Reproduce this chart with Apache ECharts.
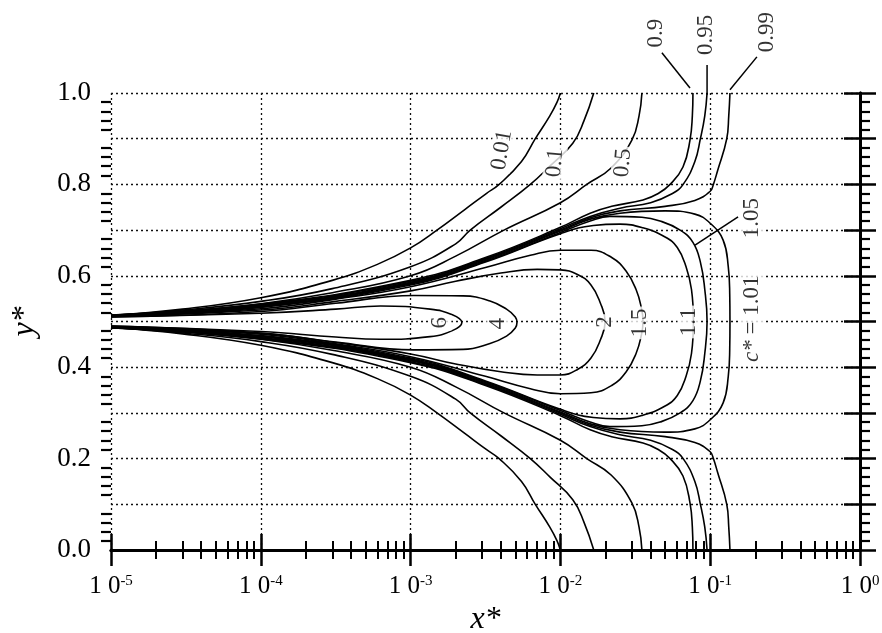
<!DOCTYPE html>
<html><head><meta charset="utf-8">
<script src="https://cdn.jsdelivr.net/npm/echarts@6/dist/echarts.min.js"></script>
<style>html,body{margin:0;padding:0;background:#fff}#c{width:882px;height:633px}</style>
</head><body><div id="c"></div>
<script>
// ---- tick labels ----
const xTickExponents = [-5, -4, -3, -2, -1, 0];
const yTickLabels = ['0.0', '0.2', '0.4', '0.6', '0.8', '1.0'];

// ---- contour curves, [x*, y*] ----
const c001Upper = [[1e-5,.513],[3e-5,.527],[1e-4,.552],[3e-4,.59],[6e-4,.625],[1e-3,.661],[1.5e-3,.70],[2.3e-3,.745],[3.2e-3,.78],[3.9e-3,.80],[5.5e-3,.85],[6.8e-3,.90],[8.5e-3,.95],[9.5e-3,.98],[1e-2,1.0]];
const c001Lower = [[1e-5,.487],[3e-5,.473],[1e-4,.448],[3e-4,.41],[6e-4,.375],[1e-3,.339],[1.5e-3,.30],[2.3e-3,.255],[3.2e-3,.22],[3.9e-3,.20],[5.5e-3,.15],[6.8e-3,.10],[8.5e-3,.05],[9.5e-3,.02],[1e-2,0]];
const c01Upper = [[1e-5,.513],[3e-5,.525],[1e-4,.544],[3e-4,.572],[1e-3,.62],[2e-3,.67],[2.5e-3,.70],[4e-3,.75],[6.3e-3,.80],[8.5e-3,.84],[1.21e-2,.89],[1.44e-2,.94],[1.67e-2,1.0]];
const c01Lower = [[1e-5,.487],[3e-5,.475],[1e-4,.456],[3e-4,.428],[1e-3,.38],[2e-3,.33],[2.5e-3,.30],[4e-3,.25],[6.3e-3,.20],[8.5e-3,.16],[1.21e-2,.11],[1.44e-2,.06],[1.67e-2,0]];
const c05Upper = [[1e-5,.513],[3e-5,.523],[1e-4,.539],[3e-4,.563],[1e-3,.60],[2e-3,.643],[4.2e-3,.70],[1e-2,.76],[1.5e-2,.80],[2.18e-2,.836],[3.0e-2,.897],[3.35e-2,.95],[3.5e-2,1.0]];
const c05Lower = [[1e-5,.487],[3e-5,.477],[1e-4,.461],[3e-4,.437],[1e-3,.40],[2e-3,.357],[4.2e-3,.30],[1e-2,.24],[1.5e-2,.20],[2.18e-2,.164],[3.0e-2,.103],[3.35e-2,.05],[3.5e-2,0]];
const c09Upper = [[1e-5,.514],[1e-4,.538],[1e-3,.59],[3.16e-3,.64],[1e-2,.706],[1.58e-2,.737],[2.2e-2,.752],[3.56e-2,.766],[4.5e-2,.78],[5.4e-2,.80],[6.58e-2,.838],[7.33e-2,.897],[7.6e-2,.95],[7.67e-2,1.0]];
const c09Lower = [[1e-5,.486],[1e-4,.462],[1e-3,.41],[3.16e-3,.36],[1e-2,.294],[1.58e-2,.263],[2.2e-2,.248],[3.56e-2,.234],[4.5e-2,.22],[5.4e-2,.20],[6.58e-2,.162],[7.33e-2,.103],[7.6e-2,.05],[7.67e-2,0]];
const c095Upper = [[1e-5,.514],[1e-4,.537],[1e-3,.588],[3.16e-3,.638],[1e-2,.703],[1.58e-2,.73],[2.5e-2,.748],[4e-2,.76],[5.6e-2,.78],[6.6e-2,.80],[7.9e-2,.85],[8.6e-2,.90],[9.2e-2,.95],[9.53e-2,1.0]];
const c095Lower = [[1e-5,.486],[1e-4,.463],[1e-3,.412],[3.16e-3,.362],[1e-2,.297],[1.58e-2,.27],[2.5e-2,.252],[4e-2,.24],[5.6e-2,.22],[6.6e-2,.20],[7.9e-2,.15],[8.6e-2,.10],[9.2e-2,.05],[9.53e-2,0]];
const c099Upper = [[1e-5,.513],[1e-4,.535],[1e-3,.586],[3.16e-3,.636],[1e-2,.70],[1.58e-2,.727],[2.5e-2,.742],[5e-2,.752],[7.9e-2,.765],[1e-1,.785],[1.05e-1,.80],[1.12e-1,.83],[1.29e-1,.90],[1.33e-1,.95],[1.355e-1,1.0]];
const c099Lower = [[1e-5,.487],[1e-4,.465],[1e-3,.414],[3.16e-3,.364],[1e-2,.30],[1.58e-2,.273],[2.5e-2,.258],[5e-2,.248],[7.9e-2,.235],[1e-1,.215],[1.05e-1,.20],[1.12e-1,.17],[1.29e-1,.10],[1.33e-1,.05],[1.355e-1,0]];
const c101Loop = [[1e-5,.513],[1e-4,.533],[1e-3,.584],[3.16e-3,.634],[1e-2,.698],[1.58e-2,.724],[2.5e-2,.737],[5e-2,.742],[7.9e-2,.735],[1e-1,.715],[1.22e-1,.678],[1.32e-1,.62],[1.35e-1,.56],[1.355e-1,.50],
  [1.35e-1,.44],[1.32e-1,.38],[1.22e-1,.322],[1e-1,.285],[7.9e-2,.265],[5e-2,.258],[2.5e-2,.263],[1.58e-2,.276],[1e-2,.302],[3.16e-3,.366],[1e-3,.416],[1e-4,.467],[1e-5,.487]];
const c105Loop = [[1e-5,.512],[1e-4,.532],[1e-3,.582],[3.16e-3,.632],[1e-2,.695],[1.58e-2,.72],[2.14e-2,.73],[3.5e-2,.728],[4.62e-2,.72],[6.3e-2,.70],[7.67e-2,.673],[8.6e-2,.63],[9.2e-2,.57],[9.53e-2,.50],
  [9.2e-2,.43],[8.6e-2,.37],[7.67e-2,.327],[6.3e-2,.30],[4.62e-2,.28],[3.5e-2,.272],[2.14e-2,.27],[1.58e-2,.28],[1e-2,.305],[3.16e-3,.368],[1e-3,.418],[1e-4,.468],[1e-5,.488]];
const c11Loop = [[1e-5,.512],[1e-4,.531],[1e-3,.58],[3.16e-3,.63],[1e-2,.692],[1.66e-2,.71],[2.5e-2,.713],[3.55e-2,.705],[5e-2,.685],[6.03e-2,.662],[6.9e-2,.62],[7.5e-2,.57],[7.73e-2,.50],
  [7.5e-2,.43],[6.9e-2,.38],[6.03e-2,.338],[5e-2,.315],[3.55e-2,.295],[2.5e-2,.287],[1.66e-2,.29],[1e-2,.308],[3.16e-3,.37],[1e-3,.42],[1e-4,.469],[1e-5,.488]];
const c15Loop = [[1e-5,.511],[1e-4,.528],[3.16e-4,.549],[1e-3,.576],[3.16e-3,.618],[6.3e-3,.645],[1e-2,.656],[1.6e-2,.656],[2.2e-2,.64],[2.75e-2,.61],[3.2e-2,.57],[3.47e-2,.53],[3.56e-2,.50],
  [3.47e-2,.47],[3.2e-2,.43],[2.75e-2,.39],[2.2e-2,.36],[1.6e-2,.344],[1e-2,.342],[6.3e-3,.353],[3.16e-3,.38],[1e-3,.423],[3.16e-4,.451],[1e-4,.472],[1e-5,.489]];
const c2Loop = [[1e-5,.511],[1e-4,.525],[3.16e-4,.544],[1e-3,.567],[2e-3,.588],[4e-3,.606],[7e-3,.614],[1e-2,.613],[1.3e-2,.603],[1.6e-2,.58],[1.85e-2,.54],[1.99e-2,.50],
  [1.85e-2,.46],[1.6e-2,.42],[1.3e-2,.395],[1e-2,.383],[7e-3,.383],[4e-3,.39],[2e-3,.407],[1e-3,.429],[3.16e-4,.454],[1e-4,.474],[1e-5,.489]];
const c4Loop = [[1e-5,.51],[1e-4,.522],[3.16e-4,.54],[1.05e-3,.557],[2.24e-3,.556],[3.39e-3,.545],[4.37e-3,.527],[5e-3,.51],[5.13e-3,.498],
  [5e-3,.486],[4.37e-3,.468],[3.39e-3,.452],[2.24e-3,.439],[1.05e-3,.438],[3.16e-4,.455],[1e-4,.475],[1e-5,.49]];
const c6Loop = [[1e-5,.51],[1e-4,.518],[3.16e-4,.527],[6.3e-4,.534],[1.35e-3,.527],[1.9e-3,.515],[2.2e-3,.498],
  [1.9e-3,.48],[1.35e-3,.467],[6.3e-4,.461],[3.16e-4,.466],[1e-4,.478],[1e-5,.49]];

// ---- curve labels ----
const curveLabelText = ['0.01','0.1','0.5','0.9','0.95','0.99','1.05','c* = 1.01','1.1','1.5','2','4','6'];
const curveLabelX = [4.07e-3, 9.2e-3, 2.62e-2, 4.35e-2, 9.38e-2, 2.39e-1, 1.9e-1, 1.9e-1, 7.21e-2, 3.4e-2, 1.99e-2, 3.83e-3, 1.57e-3];
const curveLabelY = [.875, .847, .847, 1.131, 1.127, 1.133, .726, .506, .499, .497, .499, .495, .497];
// leader lines from label to curve
const leader09 = [[4.76e-2,1.088],[7.33e-2,1.011]];
const leader095 = [[9.53e-2,1.061],[9.53e-2,.996]];
const leader099 = [[2.05e-1,1.079],[1.355e-1,1.007]];
const leader105 = [[1.535e-1,.729],[7.92e-2,.667]];

const curves = [c001Upper,c001Lower,c01Upper,c01Lower,c05Upper,c05Lower,c09Upper,c09Lower,c095Upper,c095Lower,c099Upper,c099Lower,c101Loop,c105Loop,c11Loop,c15Loop,c2Loop,c4Loop,c6Loop];
const leaders = [leader09, leader095, leader099, leader105];

const SERIF = '"Liberation Serif", "DejaVu Serif", serif';
const labelRot = [80, 85, 85, 90, 90, 90, 90, 90, 90, 90, 90, 90, 90];
const labelBg = [true, true, true, false, false, false, true, true, true, true, true, true, true];

// minor tick positions (log decades 2..9, and every 0.02 on y)
const minorLog = [];
for (let d = -5; d < 0; d++) for (let k = 2; k <= 9; k++) minorLog.push(d + Math.log10(k));
const minorY = [];
for (let i = 1; i < 50; i++) if (i % 5 !== 0) minorY.push(i / 50);

const chart = echarts.init(document.getElementById('c'), null, {renderer: 'canvas'});
const axisLine = {show: true, lineStyle: {color: '#000', width: 3}};
const majorTick = {show: true, length: 16, lineStyle: {color: '#000', width: 2.5}};
const dotted = {show: true, lineStyle: {color: '#111', width: 1.3, type: [2, 3]}};
const xFmt = v => { const e = Math.round(Math.log10(v)); return xTickExponents.indexOf(e) >= 0 ? '{b|1 0}{s|' + e + '}' : ''; };

function minorX(pos) {
  return {type: 'value', position: pos, min: -5, max: 0, gridIndex: 0,
    axisLine: {show: false}, axisLabel: {show: false}, splitLine: {show: false},
    axisTick: {show: true, customValues: minorLog, length: 9, lineStyle: {color: '#000', width: 2}}};
}
function minorYAxis(pos) {
  return {type: 'value', position: pos, min: 0, max: 1, gridIndex: 0,
    axisLine: {show: false}, axisLabel: {show: false}, splitLine: {show: false},
    axisTick: {show: true, customValues: minorY, length: 10, lineStyle: {color: '#000', width: 2.2}}};
}

const series = [];
curves.forEach(d => series.push({
  type: 'line', data: d, xAxisIndex: 0, yAxisIndex: 0, showSymbol: false, symbol: 'none',
  smooth: 0.45, lineStyle: {color: '#000', width: 1.6}, z: 3, silent: true, clip: false
}));
leaders.forEach(d => series.push({
  type: 'line', data: d, xAxisIndex: 0, yAxisIndex: 0, showSymbol: false, symbol: 'none',
  lineStyle: {color: '#000', width: 1.5}, z: 3, silent: true, clip: false
}));
series.push({
  type: 'scatter', xAxisIndex: 0, yAxisIndex: 0, symbolSize: 1, clip: false, z: 10, silent: true,
  itemStyle: {color: 'rgba(0,0,0,0)'},
  data: curveLabelText.map((t, i) => ({
    value: [curveLabelX[i], curveLabelY[i]],
    label: {
      show: true, position: 'inside', rotate: labelRot[i],
      formatter: t.indexOf('c*') === 0 ? '{i|c*}{n|' + t.slice(2) + '}' : t,
      fontFamily: SERIF, fontSize: 23, color: '#000',
      backgroundColor: labelBg[i] ? '#fff' : 'transparent', padding: [0, 2],
      rich: {i: {fontFamily: SERIF, fontSize: 23, fontStyle: 'italic', color: '#000'},
             n: {fontFamily: SERIF, fontSize: 23, color: '#000'}}
    }
  }))
});

chart.setOption({
  animation: false,
  backgroundColor: '#fff',
  grid: {left: 111, right: 22, top: 93, bottom: 83, containLabel: false, outerBoundsMode: 'none'},
  xAxis: [
    {type: 'log', logBase: 10, min: 1e-5, max: 1, splitNumber: 5, position: 'bottom',
     axisLine: axisLine, axisTick: majorTick, splitLine: dotted,
     name: 'x*', nameLocation: 'middle', nameGap: 46,
     nameTextStyle: {fontFamily: SERIF, fontSize: 32, fontStyle: 'italic', color: '#000'},
     axisLabel: {margin: 24, formatter: xFmt, color: '#000',
       rich: {b: {fontFamily: SERIF, fontSize: 25, color: '#000'},
              s: {fontFamily: SERIF, fontSize: 15, color: '#000', verticalAlign: 'top', padding: [0, 0, 10, 0]}}}},
    {type: 'log', logBase: 10, min: 1e-5, max: 1, splitNumber: 5, position: 'top',
     axisLine: axisLine, axisTick: majorTick, splitLine: {show: false}, axisLabel: {show: false}},
    minorX('bottom'),
    minorX('top')
  ],
  yAxis: [
    {type: 'value', min: 0, max: 1, interval: 0.1, position: 'left',
     axisLine: axisLine, axisTick: majorTick, splitLine: dotted,
     name: 'y*', nameLocation: 'middle', nameGap: 70,
     nameTextStyle: {fontFamily: SERIF, fontSize: 32, fontStyle: 'italic', color: '#000'},
     axisLabel: {margin: 20, fontFamily: SERIF, fontSize: 27, color: '#000',
       formatter: v => { const k = Math.round(v * 10); return k % 2 === 0 ? yTickLabels[k / 2] : ''; }}},
    {type: 'value', min: 0, max: 1, interval: 0.1, position: 'right',
     axisLine: axisLine, axisTick: majorTick, splitLine: {show: false}, axisLabel: {show: false}},
    minorYAxis('left'),
    minorYAxis('right')
  ],
  series: series
});
</script></body></html>
